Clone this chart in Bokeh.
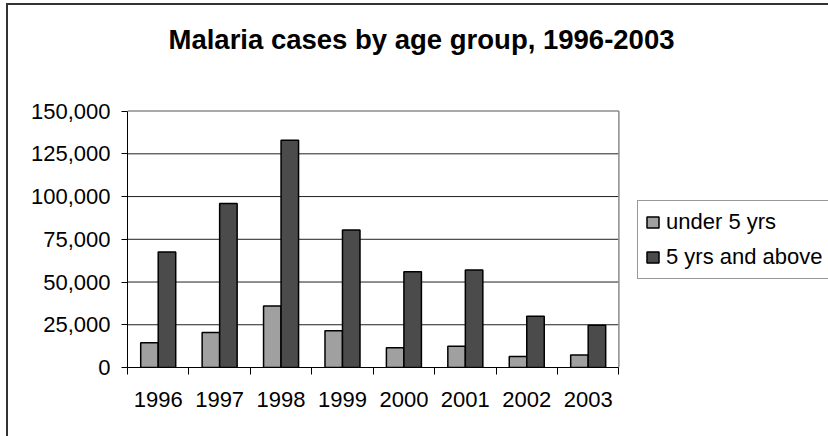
from bokeh.plotting import figure
from bokeh.models import (ColumnDataSource, Range1d, FixedTicker, NumeralTickFormatter,
                          Legend, LegendItem, Label)
from bokeh.transform import dodge
from bokeh.embed import file_html
from bokeh.resources import INLINE

# ---- data ----
years = ["1996", "1997", "1998", "1999", "2000", "2001", "2002", "2003"]
under5 = [14500, 20500, 36000, 21500, 11500, 12500, 6500, 7300]
above5 = [67500, 96000, 133000, 80500, 56000, 57000, 30000, 24700]
y_ticks = [0, 25000, 50000, 75000, 100000, 125000, 150000]
series_names = ["under 5 yrs", "5 yrs and above"]
title_text = "Malaria cases by age group, 1996-2003"

FONT = "Liberation Sans"
n = len(years)
centers = [i + 0.5 for i in range(n)]
bounds = [float(i) for i in range(n + 1)]
y_max = y_ticks[-1]

# ---- layout (pixels) ----
W, H = 820, 431            # canvas; CSS margin+border place it near page (8, 5)
LEFT, BOTTOM = 119, 71     # axis panels
PLOT_W, PLOT_H = 490, 255  # visible plot area inside the (larger) frame
frame_w = W - LEFT
frame_h = H - BOTTOM
x_end = n * frame_w / PLOT_W
y_end = y_max * frame_h / PLOT_H

src = ColumnDataSource(dict(x=centers, under5=under5, above5=above5, year=years))

p = figure(width=W, height=H, output_backend="svg", toolbar_location=None,
           x_range=Range1d(0, x_end), y_range=Range1d(0, y_end),
           min_border_left=LEFT, min_border_right=0, min_border_top=0,
           min_border_bottom=BOTTOM)
p.styles = {"border-left": "2px solid #333333", "border-top": "2px solid #333333",
            "margin-left": "6px", "margin-top": "3px", "box-sizing": "content-box"}
p.title.visible = False
p.outline_line_color = None
p.xgrid.visible = False
p.ygrid.visible = False

# gridlines and plot-area border (top / right in grey)
inner = y_ticks[1:-1]
p.segment(x0=[0] * len(inner), x1=[n] * len(inner), y0=inner, y1=inner,
          line_color="#202020", line_width=1)
p.segment(x0=[0, n], x1=[n, n], y0=[y_max, 0], y1=[y_max, y_max],
          line_color="#8c8c8c", line_width=1.5)

bw = 0.285
r1 = p.vbar(x=dodge("x", -bw / 2, range=p.x_range), top="under5", width=bw, source=src,
            fill_color="#a0a0a0", line_color="black", line_width=1.5)
r2 = p.vbar(x=dodge("x", bw / 2, range=p.x_range), top="above5", width=bw, source=src,
            fill_color="#4b4b4b", line_color="black", line_width=1.5)

# y axis
ya = p.yaxis[0]
ya.ticker = FixedTicker(ticks=y_ticks)
ya.bounds = (0, y_max)
ya.formatter = NumeralTickFormatter(format="0,0")
ya.major_label_text_font = FONT
ya.major_label_text_font_size = "22px"
ya.major_label_text_color = "black"
ya.major_tick_out = 6
ya.major_tick_in = 0
ya.minor_tick_line_color = None
ya.major_label_standoff = 11
ya.axis_line_color = "black"
ya.major_tick_line_color = "black"

# x axis: labels at centres, tick marks at category boundaries
xa = p.xaxis[0]
xa.ticker = FixedTicker(ticks=centers, minor_ticks=bounds)
xa.bounds = (0, n)
xa.major_label_overrides = {c: y for c, y in zip(centers, years)}
xa.major_label_text_font = FONT
xa.major_label_text_font_size = "22px"
xa.major_label_text_color = "black"
xa.major_tick_out = 0
xa.major_tick_in = 0
xa.minor_tick_out = 7
xa.minor_tick_in = 0
xa.minor_tick_line_color = "black"
xa.axis_line_color = "black"
xa.major_label_standoff = 17

# title (screen units relative to the frame's bottom-left)
p.add_layout(Label(x=41, y=328, x_units="screen", y_units="screen", text=title_text,
                   text_font=FONT, text_font_size="27.5px", text_font_style="bold",
                   text_color="black", text_align="left", text_baseline="alphabetic"))

# legend
legend = Legend(items=[LegendItem(label=series_names[0], renderers=[r1]),
                       LegendItem(label=series_names[1], renderers=[r2])],
                location=(510, 88), orientation="vertical",
                label_text_font=FONT, label_text_font_size="22px",
                label_text_color="black",
                glyph_width=15, glyph_height=14, label_standoff=6,
                label_height=28, label_width=175, spacing=7, padding=7, margin=0,
                border_line_color="#333333", border_line_width=1,
                background_fill_alpha=1)
p.add_layout(legend, "center")

open("out.html", "w").write(file_html(p, INLINE))
